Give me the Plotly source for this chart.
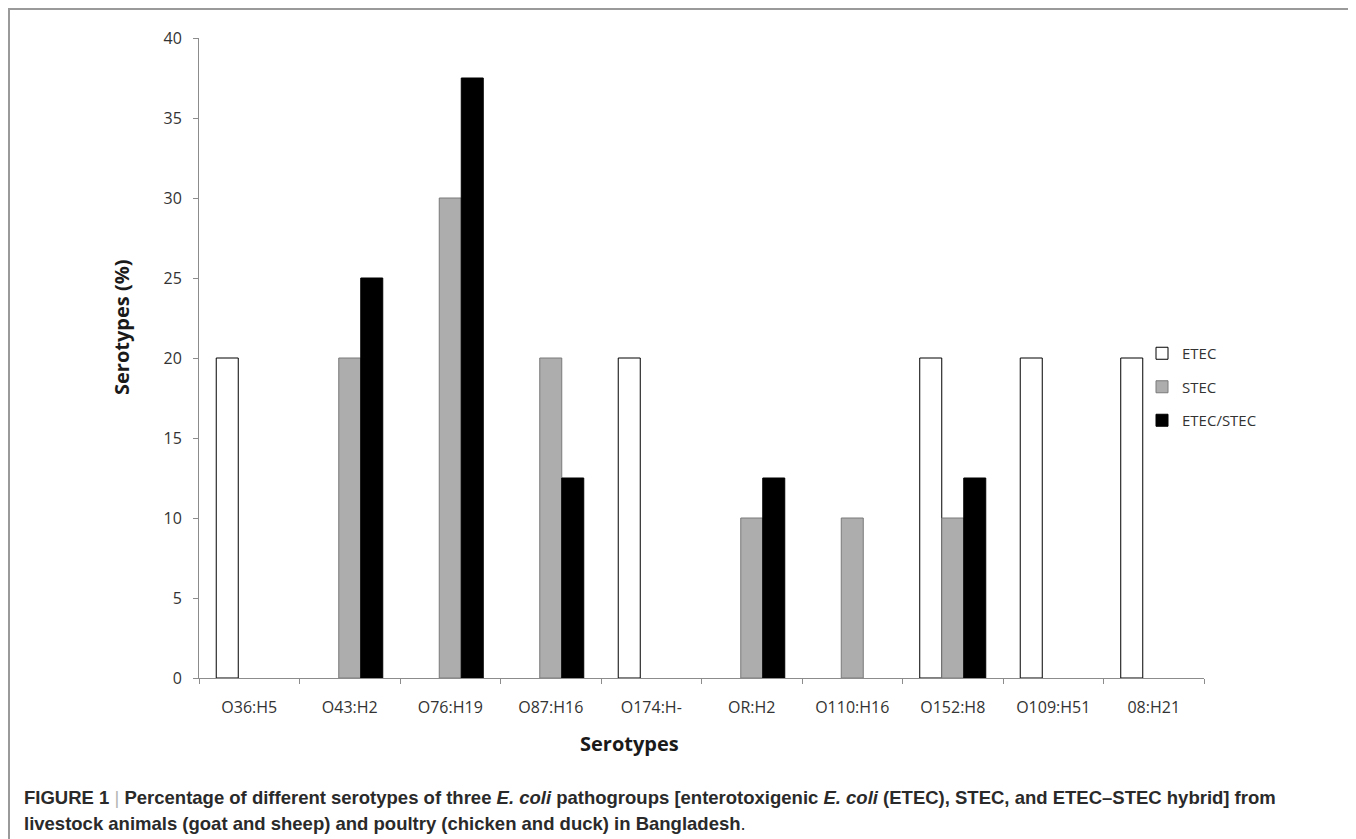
import plotly.graph_objects as go

categories = ["O36:H5", "O43:H2", "O76:H19", "O87:H16", "O174:H-", "OR:H2",
              "O110:H16", "O152:H8", "O109:H51", "08:H21"]
etec = [20, None, None, None, 20, None, None, 20, 20, 20]
stec = [None, 20, 30, 20, None, 10, 10, 10, None, None]
etec_stec = [None, 25, 37.5, 12.5, None, 12.5, None, 12.5, None, None]
y_ticks = [0, 5, 10, 15, 20, 25, 30, 35, 40]

# page body has an 8px margin, so the figure is drawn 8px in from the window edge
OFF = 8
W, H = 1356 - OFF, 839 - OFF
L, R, T, B = 199 - OFF, 1204 - OFF, 38 - OFF, 678 - OFF  # plot area (figure pixels)

def px(x):
    return (x - OFF - L) / (R - L)

def py(y):
    return (B - (y - OFF)) / (B - T)

chart_font = "Open Sans, DejaVu Sans, sans-serif"
cap_font = dict(family="Liberation Sans, Arial, sans-serif", size=18.5, color="#2a2a2a")

fig = go.Figure()
fig.add_trace(go.Bar(x=categories, y=etec, name="ETEC", legendgroup="a",
                     marker=dict(color="white", line=dict(color="black", width=1))))
fig.add_trace(go.Bar(x=categories, y=stec, name="STEC", legendgroup="b",
                     marker=dict(color="#adadad", line=dict(color="#7a7a7a", width=1))))
fig.add_trace(go.Bar(x=categories, y=etec_stec, name="ETEC/STEC", legendgroup="c",
                     marker=dict(color="black", line=dict(color="black", width=1))))

caption_1 = ("<b>FIGURE 1 <span style='color:#b5b5b5;font-weight:normal'>|</span> "
             "Percentage of different serotypes of three <i>E. coli</i> pathogroups "
             "[enterotoxigenic <i>E. coli</i> (ETEC), STEC, and ETEC–STEC hybrid] from</b>")
caption_2 = ("<b>livestock animals (goat and sheep) and poultry (chicken and duck) "
             "in Bangladesh</b>.")

fig.update_layout(
    width=W, height=H,
    margin=dict(l=L, r=W - R, t=T, b=H - B, pad=0),
    paper_bgcolor="white", plot_bgcolor="white",
    barmode="group", bargap=0.343, bargroupgap=0,
    font=dict(family=chart_font, size=16, color="#333333"),
    showlegend=True,
    legend=dict(x=px(1142), y=py(337), xanchor="left", yanchor="top",
                bgcolor="rgba(0,0,0,0)", font=dict(size=15, color="#333333"),
                tracegroupgap=11, itemwidth=30, traceorder="grouped"),
    xaxis=dict(type="category", showline=True, linecolor="#8c8c8c", linewidth=1,
               ticks="outside", ticklen=5, tickcolor="#8c8c8c", tickson="boundaries",
               showgrid=False, zeroline=False, tickfont=dict(size=16, color="#333333"),
               ticklabelstandoff=15),
    yaxis=dict(range=[0, 40], tickvals=y_ticks, showline=True, linecolor="#8c8c8c", linewidth=1,
               ticks="outside", ticklen=5, tickcolor="#8c8c8c", showgrid=False, zeroline=False,
               tickfont=dict(size=16, color="#333333"), ticklabelstandoff=8),
    shapes=[
        dict(type="rect", xref="paper", yref="paper", x0=px(9), x1=px(1353), y0=py(870), y1=py(9),
             line=dict(color="#9a9a9a", width=2), fillcolor="rgba(0,0,0,0)", layer="below"),
    ],
    annotations=[
        dict(text="<b>Serotypes (%)</b>", xref="paper", yref="paper", x=px(121), y=py(327),
             xanchor="center", yanchor="middle", textangle=-90, showarrow=False,
             font=dict(family=chart_font, size=20, color="#1a1a1a")),
        dict(text="<b>Serotypes</b>", xref="paper", yref="paper", x=px(629), y=py(743),
             xanchor="center", yanchor="middle", showarrow=False,
             font=dict(family=chart_font, size=20, color="#1a1a1a")),
        dict(text=caption_1, xref="paper", yref="paper", x=px(22), y=py(797), xanchor="left",
             yanchor="middle", align="left", showarrow=False, font=cap_font),
        dict(text=caption_2, xref="paper", yref="paper", x=px(22), y=py(823), xanchor="left",
             yanchor="middle", align="left", showarrow=False, font=cap_font),
    ],
)

fig.write_html("out.html")
